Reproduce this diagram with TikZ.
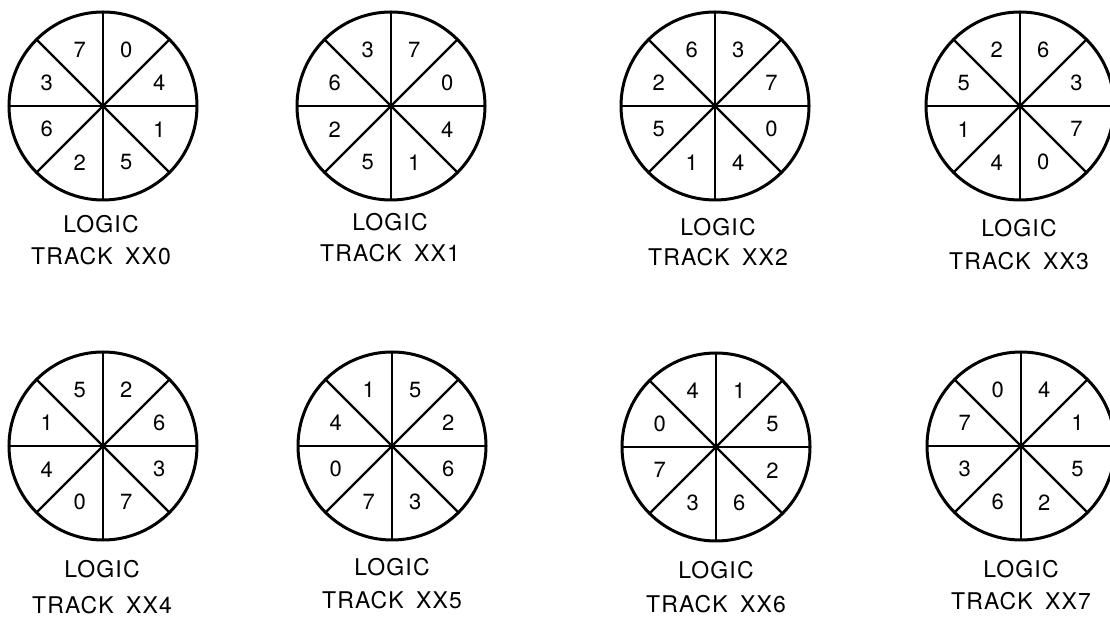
\documentclass[tikz,border=0pt]{standalone}
\usepackage{fontspec}
\setmainfont{TeX Gyre Heros}
\newfontfamily\lblfont{TeX Gyre Heros}[LetterSpace=5]
\usetikzlibrary{calc}
\begin{document}
\begin{tikzpicture}[x=1pt,y=1pt,
  rim/.style={line width=3pt},
  spoke/.style={line width=2.2pt},
  digit/.style={font=\fontsize{22}{22}\selectfont, inner sep=0pt},
  caption/.style={font=\lblfont\fontsize{23}{23}\selectfont, inner sep=0pt, anchor=base}]
\useasboundingbox (0,0) rectangle (1110,618);
\clip (0,0) rectangle (1110,618);
\foreach \n/\cx/\cy/\seq/\lx/\ly/\ty in {
  0/103/512/{0,4,1,5,2,6,3,7}/101/385/353,
  1/391/512/{7,0,4,1,5,2,6,3}/390/387/356,
  2/715/512/{3,7,0,4,1,5,2,6}/718/382/352,
  3/1020/512/{6,3,7,0,4,1,5,2}/1019/381/348,
  4/103/172/{2,6,3,7,0,4,1,5}/102/40/5,
  5/392/172/{5,2,6,3,7,0,4,1}/392/42/10,
  6/716/171/{1,5,2,6,3,7,0,4}/716/39/6,
  7/1021/172/{4,1,5,2,6,3,7,0}/1021/40/9}
{
  \coordinate (o\n) at (\cx,\cy);
  \foreach \a in {0,45,90,135}
    \draw[spoke] ($(o\n)+(\a:94)$) -- ($(o\n)+(\a+180:94)$);
  \draw[rim] (o\n) circle[radius=94];
  \fill (o\n) circle[radius=3];
  \foreach \d [count=\j from 0] in \seq
    \node[digit] (d\n-\j) at ($(o\n)+({67.5-45*\j}:61)$) {\d};
  \node[caption] (logic\n) at (\lx,\ly) {LOGIC};
  \node[caption] (track\n) at (\lx,\ty) {TRACK\hspace{5pt} XX\n};
}
\end{tikzpicture}
\end{document}
